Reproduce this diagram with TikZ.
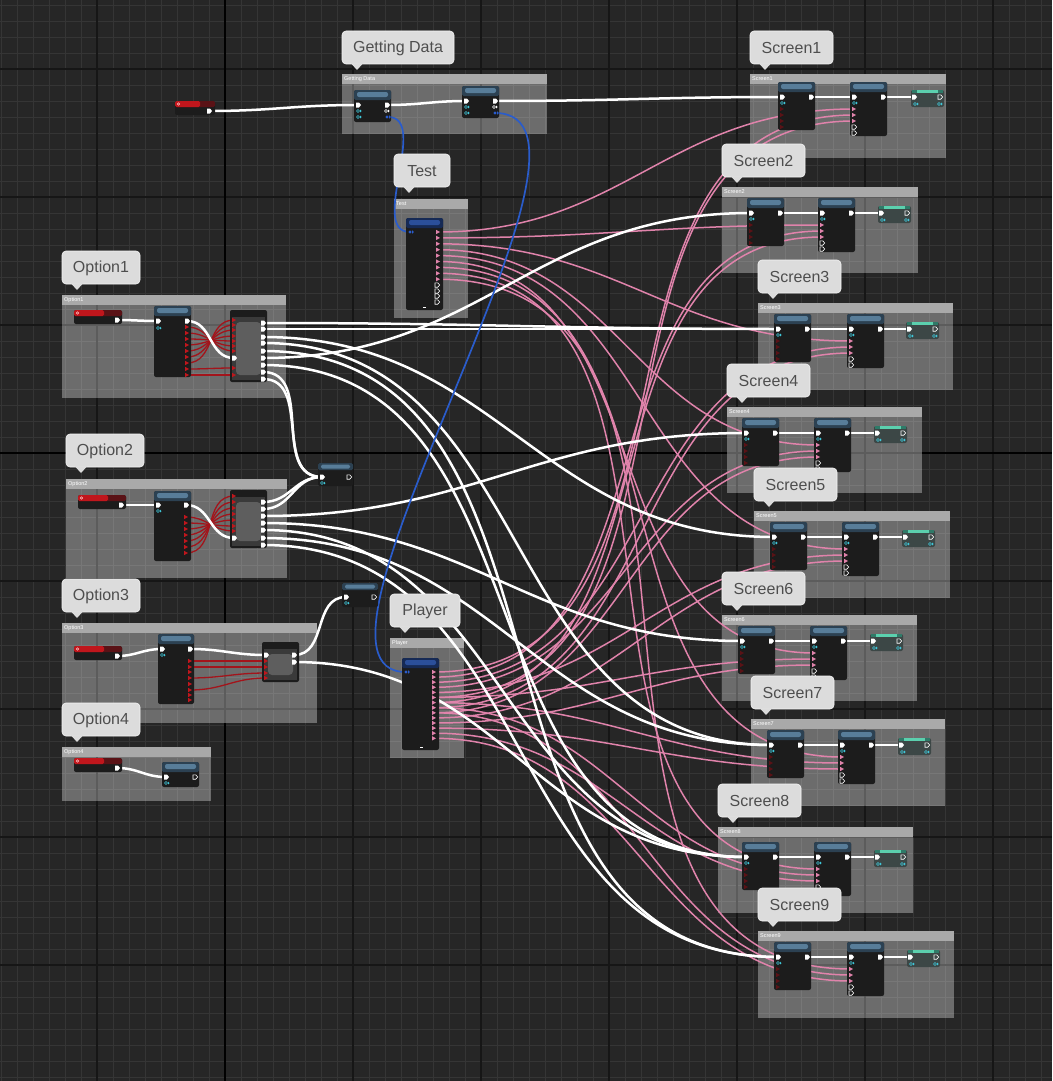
\documentclass[tikz,border=0pt]{standalone}
\usepackage{fontspec}
\setmainfont{Liberation Sans}
\definecolor{bg}{HTML}{262626}
\definecolor{gminor}{HTML}{353535}
\definecolor{gmajor}{HTML}{161616}
\definecolor{bminor}{HTML}{777777}
\definecolor{bmajor}{HTML}{5C5C5C}
\definecolor{boxbody}{HTML}{6C6C6C}
\definecolor{boxhead}{HTML}{A9A9A9}
\definecolor{pinkc}{HTML}{E083AB}
\definecolor{redw}{HTML}{A3141B}
\definecolor{bluew}{HTML}{2A5CCB}
\definecolor{nodebg}{HTML}{1C1C1C}
\definecolor{hdrA}{HTML}{587D99}
\definecolor{hdrB}{HTML}{2C4152}
\definecolor{thdrA}{HTML}{2B4F9A}
\definecolor{thdrB}{HTML}{162A55}
\definecolor{cyanp}{HTML}{3FC7D9}
\definecolor{tealA}{HTML}{5BD0AE}
\definecolor{tealB}{HTML}{2F7A68}
\definecolor{tealbody}{HTML}{3C4746}
\definecolor{bubA}{HTML}{DCDCDC}
\definecolor{bubtext}{HTML}{4E4E4E}
\definecolor{redpin}{HTML}{C0161C}
\definecolor{dimred}{HTML}{5A1216}
\definecolor{cin}{HTML}{5E5E5E}
\definecolor{cout}{HTML}{3A3A3A}
\tikzset{
 wire/.style={out=0,in=180,looseness=1.1},
 whitew/.style={draw=white,line width=2.5,line cap=round},
 pinkwire/.style={draw=pinkc,line width=1.5},
 redwire/.style={draw=redw,line width=1.3},
 bluewire/.style={draw=bluew,line width=1.7},
 ctitle/.style={anchor=west,text=white,font=\fontsize{5.5}{6}\selectfont,inner sep=0pt},
 nbody/.style={fill=nodebg,rounded corners=2},
 bub/.style={fill=bubA,draw=white!92!gray,line width=0.6,rounded corners=4},
 bubtxt/.style={text=bubtext,font=\fontsize{16}{18}\selectfont,inner sep=0pt},
}
% comment box: name x1 y1 x2 y2 title
\newcommand\cbox[6]{%
 \fill[boxbody] ({#2},{#3+10}) rectangle ({#4},{#5});
 \begin{scope}
 \clip ({#2},{#3+10}) rectangle ({#4},{#5});
 \draw[bminor,line width=0.8] \foreach \i in {0,...,65} { ({1+16*\i},{#3}) -- ({1+16*\i},{#5}) };
 \draw[bminor,line width=0.8] \foreach \j in {0,...,67} { ({#2},{5+16*\j}) -- ({#4},{5+16*\j}) };
 \draw[bmajor,line width=1.4] \foreach \x in {97,225,353,481,609,737,865,993} { (\x,{#3}) -- (\x,{#5}) };
 \draw[bmajor,line width=1.4] \foreach \y in {69,197,325,453,581,709,837,965} { ({#2},\y) -- ({#4},\y) };
 \end{scope}
 \fill[boxhead] ({#2},{#3}) rectangle ({#4},{#3+10});
 \node[ctitle] (#1) at ({#2+2},{#3+5}) {#6};}
% bubble: name x1 y1 x2 text
\newcommand\bubble[5]{%
 \fill[bub] ({#2},{#3}) rectangle ({#4},{#3+33});
 \fill[bubA] ({#2+9},{#3+32.4}) -- ({#2+15},{#3+39}) -- ({#2+21},{#3+32.4}) -- cycle;
 \node[bubtxt] (#1) at ({(#2+#4)/2},{#3+17}) {#5};}
\newcommand\bpnode[4]{\fill[nbody] ({#1},{#2}) rectangle ({#3},{#4});
 \fill[hdrB,rounded corners=1.5] ({#1},{#2}) rectangle ({#3},{#2+10});
 \fill[hdrA,rounded corners=2] ({#1+3},{#2+2}) rectangle ({#3-3},{#2+7});}
\newcommand\tpnode[4]{\fill[nbody] ({#1},{#2}) rectangle ({#3},{#4});
 \fill[thdrB,rounded corners=1.5] ({#1},{#2}) rectangle ({#3},{#2+10});
 \fill[thdrA,rounded corners=2] ({#1+3},{#2+2}) rectangle ({#3-3},{#2+7});}
\newcommand\cnode[4]{\fill[nbody] ({#1},{#2}) rectangle ({#3},{#4});
 \fill[cout] ({#1+2},{#2+7}) rectangle ({#3-2},{#4-2});
 \fill[cin,rounded corners=4] ({#1+6},{#2+12}) rectangle ({#3-6},{#4-7});}
\newcommand\varnode[2]{\fill[nbody] ({#1},{#2}) rectangle ({#1+48},{#2+14});
 \fill[dimred,rounded corners=1.5] ({#1},{#2}) rectangle ({#1+48},{#2+6});
 \fill[redpin,rounded corners=1.5] ({#1},{#2}) rectangle ({#1+30},{#2+6});
 \draw[white!75!red,line width=0.5] ({#1+3.5},{#2+3}) circle (1.3);
 \pX{#1+43}{#2+10}}
\newcommand\pX[2]{\fill[white] ({#1},{#2}) ++(-2,-2.5) -- ++(3,0) -- ++(2,2.5) -- ++(-2,2.5) -- ++(-3,0) -- cycle;}
\newcommand\pXo[2]{\draw[white,line width=0.6] ({#1},{#2}) ++(-2,-2.2) -- ++(2.7,0) -- ++(2,2.2) -- ++(-2,2.2) -- ++(-2.7,0) -- cycle;}
\newcommand\pD[3]{\fill[#3] ({#1},{#2}) circle (1.7); \fill[#3] ({#1},{#2}) ++(2.2,-1.6) -- ++(1.6,1.6) -- ++(-1.6,1.6) -- cycle;}
\newcommand\pDo[3]{\draw[#3,line width=0.5] ({#1},{#2}) circle (1.5); \fill[#3] ({#1},{#2}) ++(2.2,-1.3) -- ++(1.3,1.3) -- ++(-1.3,1.3) -- cycle;}
\newcommand\pA[3]{\fill[#3] ({#1},{#2}) ++(-2,-2.2) -- ++(0,4.4) -- ++(4,-2.2) -- cycle;}
\def\screens{1/750/74/946/158/97/778/850/911, 2/722/187/918/273/213/747/818/878, 3/758/303/953/389/329/774/847/906, 4/727/407/922/493/433/742/814/874, 5/754/511/950/598/537/770/842/902, 6/722/615/917/701/641/738/810/870, 7/751/719/945/806/745/767/838/898, 8/718/827/913/913/857/742/814/874, 9/758/931/954/1018/957/774/847/907}
\begin{document}
\begin{tikzpicture}[x=1pt,y=-1pt]
\useasboundingbox (0,0) rectangle (1052,1081);
\fill[bg] (0,0) rectangle (1052,1081);
% grid
\draw[gminor,line width=0.8] \foreach \i in {0,...,65} { ({1+16*\i},0) -- ({1+16*\i},1081) };
\draw[gminor,line width=0.8] \foreach \j in {0,...,67} { (0,{5+16*\j}) -- (1052,{5+16*\j}) };
\draw[gmajor,line width=1.4] \foreach \x in {97,353,481,609,737,865,993} { (\x,0) -- (\x,1081) };
\draw[gmajor,line width=1.4] \foreach \y in {69,197,325,581,709,837,965} { (0,\y) -- (1052,\y) };
\draw[black,line width=2] (225,0) -- (225,1081);
\draw[black,line width=2] (0,453) -- (1052,453);
% comment boxes
\cbox{hGD}{342}{74}{547}{134}{Getting Data}
\cbox{hTest}{394}{199}{468}{318}{Test}
\cbox{hO1}{62}{295}{286}{398}{Option1}
\cbox{hO2}{66}{479}{287}{578}{Option2}
\cbox{hO3}{62}{623}{317}{723}{Option3}
\cbox{hO4}{62}{747}{211}{801}{Option4}
\cbox{hPl}{390}{638}{464}{758}{Player}
\foreach \n/\xa/\ya/\xb/\yb/\ey/\ax/\bx/\tx in \screens {
 \cbox{hS\n}{\xa}{\ya}{\xb}{\yb}{Screen\n}
 \coordinate (s\n-in) at ({\ax+4},{\ey});
 \coordinate (s\n-Aout) at ({\ax+33},{\ey});
 \coordinate (s\n-Bin) at ({\bx+4},{\ey});
 \coordinate (s\n-Bout) at ({\bx+33},{\ey});
 \coordinate (s\n-Tin) at ({\tx+3},{\ey});
 \coordinate (s\n-p1) at ({\bx+4},{\ey+12});
 \coordinate (s\n-p2) at ({\bx+4},{\ey+18});
 \coordinate (s\n-p3) at ({\bx+4},{\ey+24});
}
% coordinates of pins
\coordinate (ev) at (209,111);
\coordinate (gdAin) at (358,105); \coordinate (gdAout) at (387,105); \coordinate (gdAblue) at (388,117);
\coordinate (gdBin) at (466,101); \coordinate (gdBout) at (495,101); \coordinate (gdBblue) at (495,113);
\coordinate (tin) at (410,232); \coordinate (pin) at (406,672);
\foreach \k in {1,...,9} {\coordinate (t\k) at (438,{232+5.9*(\k-1)});}
\foreach \k in {0,...,13} {\coordinate (p\k) at (434,{672+5.1*\k});}
\coordinate (o1v) at (117,320); \coordinate (o1Ain) at (158,321);
\coordinate (o1Aout) at (187,321); \coordinate (o1Cin) at (234,358);
\foreach \y [count=\i] in {323,329,337,343,351,358,365,372,379} {\coordinate (o1c\i) at (263,\y);}
\foreach \a/\c [count=\i] in {327/351,333/346,339/341,345/336,351/330,357/325,363/320,369/368,375/375} {
 \coordinate (o1ar\i) at (187,\a); \coordinate (o1cr\i) at (234,\c);}
\coordinate (o2v) at (121,505); \coordinate (o2Ain) at (158,505);
\coordinate (o2Aout) at (186,505); \coordinate (o2Cin) at (234,538);
\foreach \y [count=\i] in {502,509,516,523,530,538,545} {\coordinate (o2c\i) at (263,\y);}
\foreach \a/\c [count=\i] in {517/531,523/526,529/520,535/514,541/508,547/502,553/496} {
 \coordinate (o2ar\i) at (186,\a); \coordinate (o2cr\i) at (234,\c);}
\coordinate (o3v) at (117,656); \coordinate (o3Ain) at (162,649);
\coordinate (o3Aout) at (190,649); \coordinate (o3Cin) at (266,655);
\coordinate (o3c1) at (294,655); \coordinate (o3c2) at (294,662);
\foreach \a/\c [count=\i] in {661/661,667/667,678/673,690/678} {
 \coordinate (o3ar\i) at (190,\a); \coordinate (o3cr\i) at (266,\c);}
\coordinate (o4v) at (117,768); \coordinate (o4in) at (166,777);
\coordinate (r1) at (322,477); \coordinate (r2) at (346,597);
% pink wires
\foreach \k in {1,...,9} {\draw[pinkwire] (t\k) to[wire] (s\k-p1);}
\foreach \k [evaluate=\k as \a using int(\k-1), evaluate=\k as \b using int(\k+4)] in {1,...,9} {
 \draw[pinkwire] (p\a) to[wire] (s\k-p2);
 \draw[pinkwire] (p\b) to[wire] (s\k-p3);}
% red wires
\foreach \i in {1,...,9} {\draw[redwire] (o1ar\i) to[wire] (o1cr\i);}
\foreach \i in {1,...,7} {\draw[redwire] (o2ar\i) to[wire] (o2cr\i);}
\foreach \i in {1,...,4} {\draw[redwire] (o3ar\i) to[wire] (o3cr\i);}
% white wires
\draw[whitew] (ev) to[wire] (gdAin);
\draw[whitew] (gdAout) to[wire] (gdBin);
\draw[whitew] (gdBout) to[wire] (s1-in);
\foreach \n in {1,...,9} {\draw[whitew] (s\n-Aout) -- (s\n-Bin); \draw[whitew] (s\n-Bout) -- (s\n-Tin);}
\draw[whitew] (o1v) to[wire] (o1Ain);
\draw[whitew] (o1Aout) to[wire] (o1Cin);
\draw[whitew] (o2v) to[wire] (o2Ain);
\draw[whitew] (o2Aout) to[wire] (o2Cin);
\draw[whitew] (o3v) to[wire] (o3Ain);
\draw[whitew] (o3Aout) to[wire] (o3Cin);
\draw[whitew] (o4v) to[wire] (o4in);
\foreach \a/\b in {o1c1/s3-in,o1c2/s3-in,o1c3/s5-in,o1c4/s7-in,o1c5/s9-in,o1c6/s2-in,o1c7/s8-in,o1c8/r1,o1c9/r1,
 o2c1/r1,o2c2/r1,o2c3/s4-in,o2c4/s6-in,o2c5/s8-in,o2c6/s7-in,o2c7/s9-in,o3c1/r2,o3c2/s8-in}
 {\draw[whitew] (\a) to[wire] (\b);}
% blue wires
\draw[bluewire] (gdAblue) .. controls (430,117) and (368,232) .. (tin);
\draw[bluewire] (gdBblue) .. controls (640,113) and (270,672) .. (pin);
% ---- nodes
% event
\fill[nbody] (175,101) rectangle (215,115);
\fill[dimred,rounded corners=1.5] (175,101) rectangle (215,107);
\fill[redpin,rounded corners=1.5] (175,101) rectangle (200,107);
\draw[white!75!red,line width=0.5] (178.5,104) circle (1.3);
\pX{209}{111}
% getting data nodes
\bpnode{354}{90}{391}{122}
\pX{358}{105} \pX{387}{105} \pDo{358}{111}{cyanp} \pDo{358}{117}{cyanp} \pDo{386}{111}{white} \pD{387}{117}{bluew}
\bpnode{462}{86}{499}{118}
\pX{466}{101} \pX{495}{101} \pDo{466}{107}{cyanp} \pDo{466}{113}{cyanp} \pDo{494}{107}{white} \pD{495}{113}{bluew}
% test
\tpnode{406}{218}{443}{310}
\pD{410}{232}{bluew}
\foreach \k in {1,...,9} {\pA{438}{232+5.9*(\k-1)}{pinkc}}
\foreach \y in {285,291,296,302} {\pXo{437}{\y}}
\fill[white] (423,306.5) rectangle (426,308);
% player
\tpnode{402}{658}{439}{750}
\pD{406}{672}{bluew}
\foreach \k in {0,...,13} {\pA{434}{672+5.1*\k}{pinkc}}
\fill[white] (419.5,746.5) rectangle (422.5,748);
% option1
\varnode{74}{310}
\bpnode{154}{306}{191}{377}
\pX{158}{321} \pX{187}{321} \pDo{158}{328}{cyanp}
\foreach \y in {327,333,339,345,351,357,363,369,375} {\pA{187}{\y}{redpin}}
\cnode{230}{310}{267}{382}
\pX{234}{358}
\foreach \y in {320,325,330,336,341,346,351,368,375} {\pA{234}{\y}{redpin}}
\foreach \y in {323,329,337,343,351,358,365,372,379} {\pX{263}{\y}}
% option2
\varnode{78}{495}
\bpnode{154}{491}{191}{561}
\pX{158}{505} \pX{186}{505} \pDo{158}{511}{cyanp}
\foreach \y in {517,523,529,535,541,547,553} {\pA{186}{\y}{redpin}}
\cnode{230}{490}{267}{548}
\pX{234}{538}
\foreach \y in {496,502,508,514,520,526,531} {\pA{234}{\y}{redpin}}
\foreach \y in {502,509,516,523,530,538,545} {\pX{263}{\y}}
% reroute nodes
\fill[nbody] (318,463) rectangle (353,486);
\fill[hdrB,rounded corners=1.5] (318,463) rectangle (353,470);
\fill[hdrA,rounded corners=1.5] (321,464.5) rectangle (350,468.5);
\pX{322}{477} \pXo{349}{477} \pDo{322}{483}{cyanp}
\fill[nbody] (342,583) rectangle (378,607);
\fill[hdrB,rounded corners=1.5] (342,583) rectangle (378,590);
\fill[hdrA,rounded corners=1.5] (345,584.5) rectangle (375,588.5);
\pX{346}{597} \pXo{374}{597} \pDo{346}{603}{cyanp}
% option3
\varnode{74}{646}
\bpnode{158}{634}{194}{704}
\pX{162}{649} \pX{190}{649} \pDo{162}{655}{cyanp}
\foreach \y in {661,667,672,678,684,690,695,700} {\pA{190}{\y}{redpin}}
\cnode{262}{642}{299}{682}
\pX{266}{655}
\foreach \y in {661,667,673,678} {\pA{266}{\y}{redpin}}
\pX{294}{655} \pX{294}{662}
% option4
\varnode{74}{758}
\bpnode{162}{762}{199}{787}
\pX{166}{777} \pXo{195}{777} \pDo{166}{783}{cyanp}
% screens
\foreach \n/\xa/\ya/\xb/\yb/\ey/\ax/\bx/\tx in \screens {
 \bpnode{\ax}{\ey-15}{\ax+37}{\ey+33}
 \pX{\ax+4}{\ey} \pX{\ax+33}{\ey} \pDo{\ax+4}{\ey+6}{cyanp}
 \foreach \d in {12,18,24,30} {\pA{\ax+4}{\ey+\d}{dimred}}
 \bpnode{\bx}{\ey-15}{\bx+37}{\ey+39}
 \pX{\bx+4}{\ey} \pX{\bx+33}{\ey} \pDo{\bx+4}{\ey+6}{cyanp}
 \foreach \d in {12,18,24} {\pA{\bx+4}{\ey+\d}{pinkc}}
 \foreach \d in {30,36} {\pXo{\bx+4}{\ey+\d}}
 \fill[tealbody,rounded corners=2] ({\tx},{\ey-7}) rectangle ({\tx+33},{\ey+10});
 \fill[tealB] ({\tx+1},{\ey-7}) rectangle ({\tx+32},{\ey-4});
 \fill[tealA] ({\tx+6},{\ey-7}) rectangle ({\tx+27},{\ey-4.5});
 \pX{\tx+3}{\ey} \pXo{\tx+29}{\ey} \pDo{\tx+4}{\ey+7}{cyanp} \pDo{\tx+28}{\ey+7}{cyanp}
}
% bubbles
\bubble{bGD}{342}{31}{454}{Getting Data}
\bubble{bTest}{394}{154}{450}{Test}
\bubble{bO1}{62}{251}{140}{Option1}
\bubble{bO2}{66}{434}{144}{Option2}
\bubble{bO3}{62}{579}{140}{Option3}
\bubble{bO4}{62}{703}{140}{Option4}
\bubble{bPl}{390}{594}{460}{Player}
\foreach \n/\xa/\ya/\xb/\yb/\ey/\ax/\bx/\tx in \screens {
 \bubble{bS\n}{\xa}{\ya-43}{\xa+83}{Screen\n}
}
\end{tikzpicture}
\end{document}
